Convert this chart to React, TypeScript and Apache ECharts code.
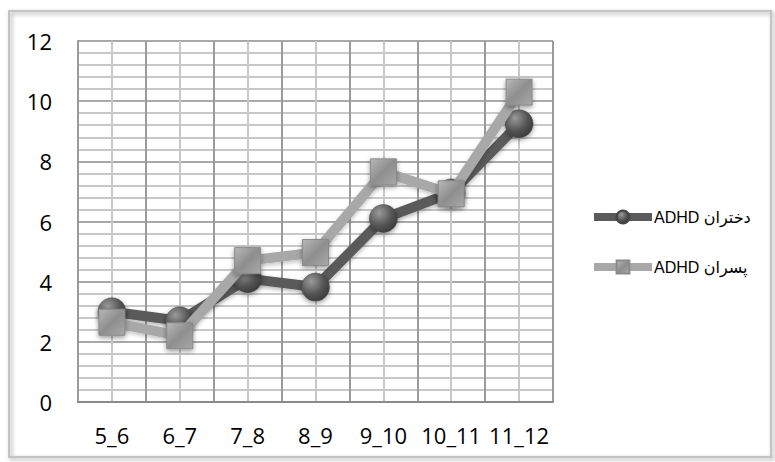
import React, { useEffect, useRef } from "react";
import * as echarts from "echarts";

const categories = ["5_6", "6_7", "7_8", "8_9", "9_10", "10_11", "11_12"];
const girlsValues = [3.0, 2.7, 4.1, 3.82, 6.1, 6.95, 9.25];
const boysValues = [2.65, 2.2, 4.7, 4.97, 7.65, 6.92, 10.3];
const seriesNames = ["ADHD دختران", "ADHD پسران"];
const yTicks = [0, 2, 4, 6, 8, 10, 12];

export default function App() {
  const ref = useRef<HTMLDivElement>(null);
  useEffect(() => {
    const chart = echarts.init(ref.current!, null, { renderer: "svg" });
    const font = "'Open Sans', 'Noto Sans', sans-serif";
    const legendFont = "'Liberation Sans', 'DejaVu Sans', sans-serif";
    const circleGrad = new echarts.graphic.RadialGradient(0.35, 0.3, 0.75, [
      { offset: 0, color: "#9a9a9a" },
      { offset: 0.6, color: "#555555" },
      { offset: 1, color: "#3a3a3a" },
    ]);
    const squareGrad = new echarts.graphic.LinearGradient(0, 0, 1, 1, [
      { offset: 0, color: "#b8b8b8" },
      { offset: 0.5, color: "#8e8e8e" },
      { offset: 1, color: "#a8a8a8" },
    ]);
    chart.setOption({
      animation: false,
      backgroundColor: "#ffffff",
      graphic: [
        {
          type: "rect",
          shape: { x: 9, y: 11, width: 762, height: 446 },
          style: {
            fill: "none",
            stroke: "#c4c4c4",
            lineWidth: 2,
            shadowBlur: 4,
            shadowColor: "rgba(0,0,0,0.35)",
            shadowOffsetX: 2,
            shadowOffsetY: 2,
          },
          z: -10,
        },
      ],
      grid: { left: 78, right: 222, top: 41, bottom: 60, containLabel: false },
      legend: {
        orient: "vertical",
        left: 585,
        top: 204,
        itemGap: 34,
        itemWidth: 58,
        itemHeight: 16,
        data: seriesNames,
        lineStyle: { width: 8 },
        textStyle: { fontFamily: legendFont, fontSize: 16, fontWeight: "normal", color: "#000", padding: [0, 0, 0, -3] },
      },
      xAxis: [
        {
          type: "category",
          data: categories,
          boundaryGap: true,
          axisLine: { show: true, lineStyle: { color: "#8a8a8a", width: 2 } },
          axisTick: { show: false },
          axisLabel: { fontFamily: font, fontSize: 22, color: "#000", margin: 22, interval: 0 },
          splitLine: { show: true, lineStyle: { color: "#8c8c8c", width: 1.5 } },
          z: 3,
        },
        {
          type: "value",
          min: 0,
          max: 14,
          interval: 1,
          show: true,
          axisLine: { show: false },
          axisTick: { show: false },
          axisLabel: { show: false },
          splitLine: { show: true, lineStyle: { color: "#c8c8c8", width: 2 } },
          z: 1,
        },
      ],
      yAxis: {
        type: "value",
        min: 0,
        max: 12,
        interval: 2,
        axisLine: { show: true, lineStyle: { color: "#8a8a8a", width: 2 } },
        axisTick: { show: false },
        axisLabel: {
          fontFamily: font,
          fontSize: 22,
          color: "#000",
          margin: 26,
          formatter: (v: number) => (yTicks.includes(v) ? String(v) : ""),
        },
        splitLine: { show: true, lineStyle: { color: "#8c8c8c", width: 1.5 } },
        minorTick: { show: false, splitNumber: 5 },
        minorSplitLine: { show: true, lineStyle: { color: "#c8c8c8", width: 2 } },
      },
      series: [
        {
          name: seriesNames[0],
          type: "line",
          data: girlsValues,
          xAxisIndex: 0,
          symbol: "circle",
          symbolSize: 28,
          showAllSymbol: true,
          lineStyle: { color: "#5a5a5a", width: 10, shadowBlur: 4, shadowColor: "rgba(0,0,0,0.3)", shadowOffsetY: 2 },
          itemStyle: {
            color: circleGrad,
            borderColor: "#444",
            borderWidth: 0.5,
            shadowBlur: 5,
            shadowColor: "rgba(0,0,0,0.4)",
            shadowOffsetY: 2,
          },
          z: 5,
        },
        {
          name: seriesNames[1],
          type: "line",
          data: boysValues,
          xAxisIndex: 0,
          symbol: "rect",
          symbolSize: 26,
          showAllSymbol: true,
          lineStyle: { color: "#a8a8a8", width: 10, shadowBlur: 4, shadowColor: "rgba(0,0,0,0.25)", shadowOffsetY: 2 },
          itemStyle: {
            color: squareGrad,
            borderColor: "#8a8a8a",
            borderWidth: 1,
            shadowBlur: 5,
            shadowColor: "rgba(0,0,0,0.4)",
            shadowOffsetY: 2,
          },
          z: 6,
        },
      ],
    });
    return () => chart.dispose();
  }, []);
  return <div ref={ref} style={{ width: 775, height: 462, position: "absolute", left: 0, top: 0 }} />;
}
